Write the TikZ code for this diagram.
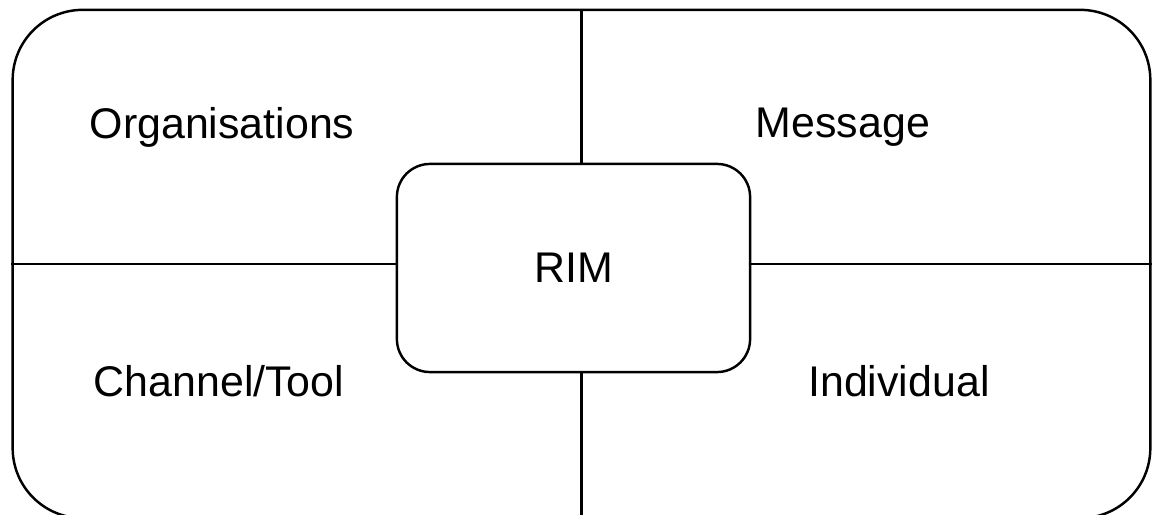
\documentclass[tikz,border=0pt]{standalone}
\usepackage{fontspec}
\setmainfont{Liberation Sans}
\usepackage{tikz}
\usetikzlibrary{positioning}

\begin{document}
\begin{tikzpicture}[
  x=0.01cm, y=-0.01cm,
  every node/.style={font=\fontsize{12.2}{14}\selectfont},
  frame/.style={draw,line width=0.7pt,rounded corners=0.7cm,minimum width=11.37cm,minimum height=5.08cm,inner sep=0pt},
  core/.style={draw,line width=0.7pt,rounded corners=0.33cm,minimum width=3.53cm,minimum height=2.08cm,inner sep=0pt},
  part/.style={inner sep=0pt}
]
\useasboundingbox (0,0) rectangle (1156,515);
\node[frame] (outer) at (581.5,264) {};
\node[core] (rim) at (573.5,268) {RIM};
\node[part] (org) at (222,127) {Organisations};
\node[part] (msg) at (843,127) {Message};
\node[part] (chan) at (219,381) {Channel/Tool};
\node[part] (ind) at (899,381) {Individual};
% dividing lines
\draw[line width=0.7pt] (outer.north) -- (outer.north |- rim.north);
\draw[line width=0.7pt] (outer.south) -- (outer.south |- rim.south);
\draw[line width=0.7pt] (outer.west) -- (outer.west -| rim.west);
\draw[line width=0.7pt] (outer.east) -- (outer.east -| rim.east);
\end{tikzpicture}
\end{document}
